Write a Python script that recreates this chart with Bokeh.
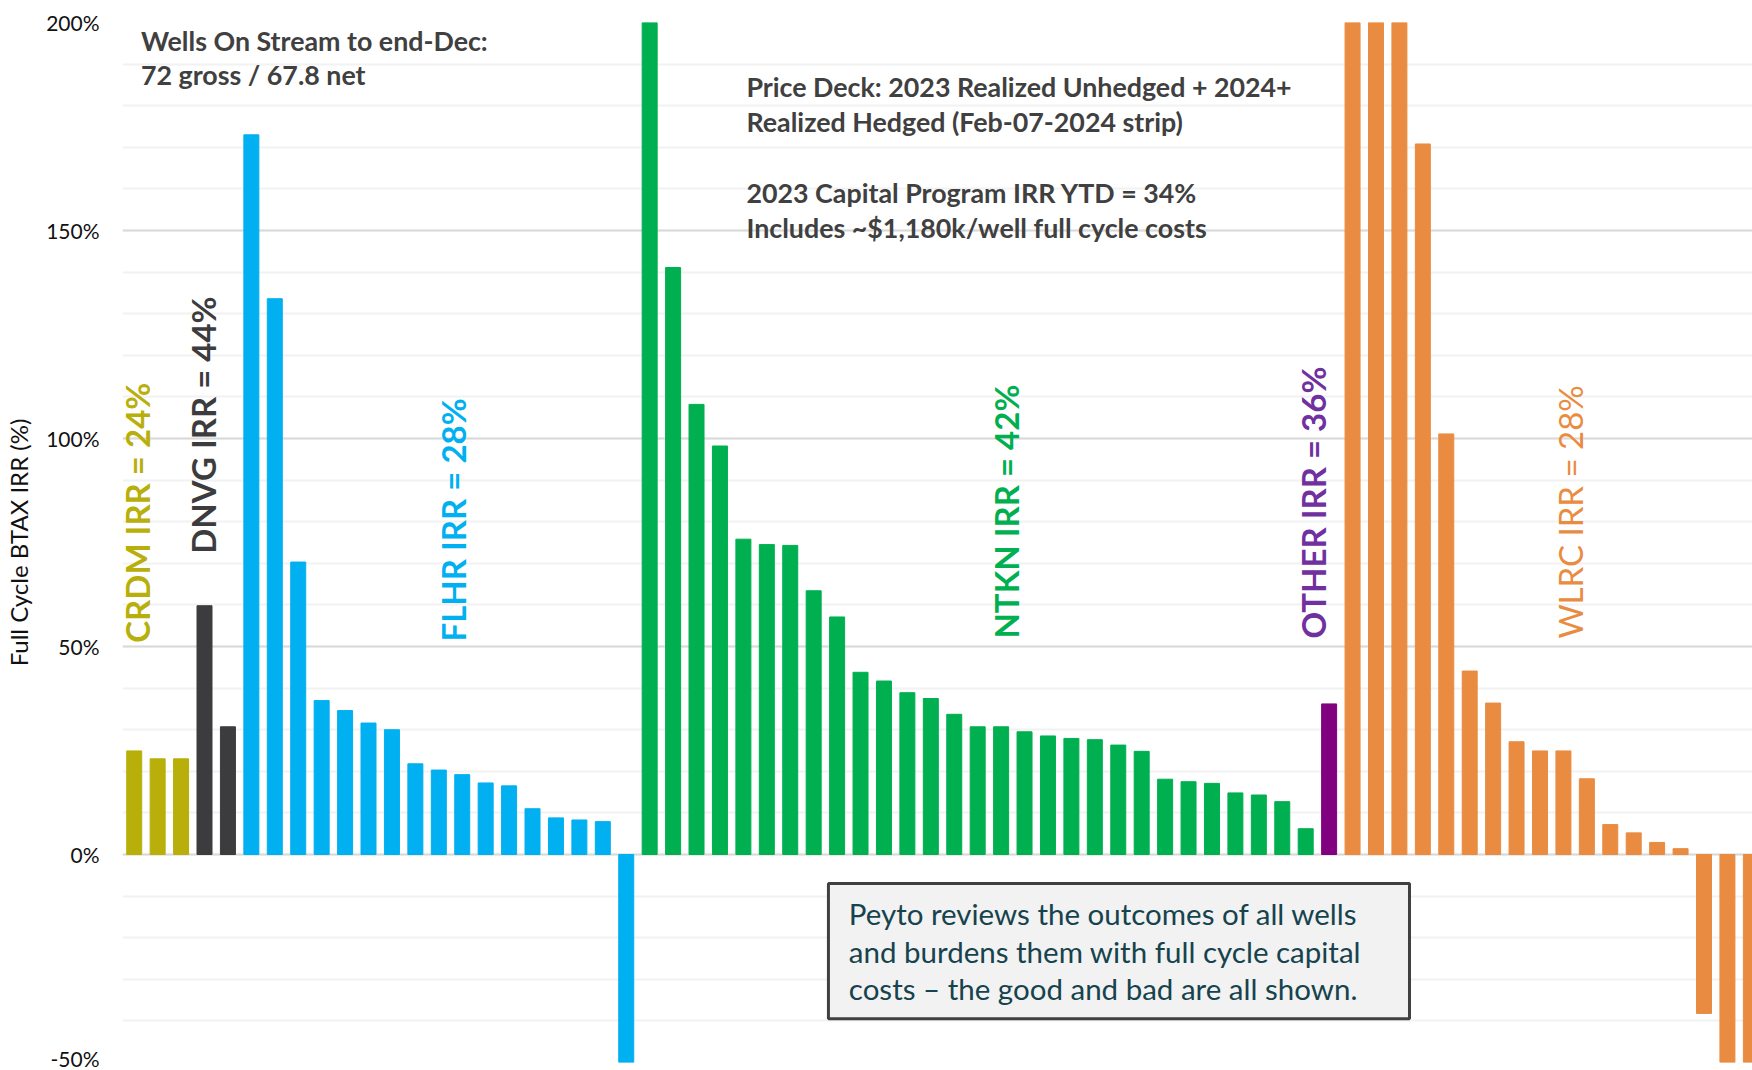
import numpy as np
from bokeh.plotting import figure
from bokeh.models import (Range1d, SingleIntervalTicker, PrintfTickFormatter,
                          Label, BoxAnnotation, ColumnDataSource)
from bokeh.core.properties import value
from bokeh.embed import file_html
from bokeh.resources import INLINE

# ---------------- data ----------------
groups = ["CRDM", "DNVG", "FLHR", "NTKN", "OTHER", "WLRC"]
group_irr = [24, 44, 28, 42, 36, 28]
crdm = [24.9, 23.0, 23.0]
dnvg = [59.8, 30.7]
flhr = [173.0, 133.6, 70.3, 37.0, 34.6, 31.6, 30.0, 21.8, 20.3, 19.2, 17.2,
        16.5, 11.0, 8.8, 8.3, 7.9, -50.0]
ntkn = [215.0, 141.1, 108.2, 98.2, 75.8, 74.5, 74.3, 63.4, 57.1, 43.8, 41.7,
        38.9, 37.5, 33.7, 30.7, 30.7, 29.5, 28.5, 27.9, 27.6, 26.3, 24.8,
        18.1, 17.5, 17.1, 14.8, 14.3, 12.7, 6.2]
other = [36.2]
wlrc = [240.0, 225.0, 210.0, 170.8, 101.1, 44.1, 36.4, 27.1, 24.9, 24.9,
        18.2, 7.2, 5.2, 2.9, 1.4, -38.2, -50.0, -50.0]

wells_text = ["Wells On Stream to end-Dec:", "72 gross / 67.8 net"]
deck_text = ["Price Deck: 2023 Realized Unhedged + 2024+",
             "Realized Hedged (Feb-07-2024 strip)",
             "2023 Capital Program IRR YTD = 34%",
             "Includes ~$1,180k/well full cycle costs"]
box_text = ["Peyto reviews the outcomes of all wells",
            "and burdens them with full cycle capital",
            "costs \u2013 the good and bad are all shown."]

# ---------------- styles / layout ----------------
bar_colors = {"CRDM": "#B8AF0A", "DNVG": "#3C3C3E", "FLHR": "#00B0F0",
              "NTKN": "#00B050", "OTHER": "#800080", "WLRC": "#E98C41"}
label_colors = {"CRDM": "#B8AF0A", "DNVG": "#3C3C3E", "FLHR": "#00B0F0",
                "NTKN": "#00B050", "OTHER": "#7030A0", "WLRC": "#E98C41"}
label_weight = {"CRDM": "bold", "DNVG": "bold", "FLHR": "bold",
                "NTKN": "bold", "OTHER": "bold", "WLRC": "normal"}
label_x = [0.14, 2.92, 13.6, 37.2, 50.3, 61.3]
label_y = [50.9, 72.3, 51.2, 51.9, 51.9, 51.9]
wells_y = [195.5, 187.3]
deck_y = [184.5, 176.2, 159.1, 150.5]
box_y = [-14.2, -23.4, -32.3]

FONT = "Lato"

series = [crdm, dnvg, flhr, ntkn, other, wlrc]
xs, tops, cols = [], [], []
i = 0
for g, vals in zip(groups, series):
    for v in vals:
        xs.append(i)
        tops.append(v)
        cols.append(bar_colors[g])
        i += 1
src = ColumnDataSource(dict(x=xs, top=tops, color=cols))

p = figure(frame_width=1630, frame_height=1040, output_backend="svg",
           toolbar_location=None,
           x_range=Range1d(-0.5, 69.07), y_range=Range1d(-50, 200),
           min_border_left=122, min_border_right=0, min_border_top=22,
           min_border_bottom=8)
p.outline_line_color = None
p.background_fill_color = "white"
p.border_fill_color = "white"
p.xaxis.visible = False
p.xgrid.visible = False

p.yaxis.ticker = SingleIntervalTicker(interval=50, num_minor_ticks=5)
p.yaxis.formatter = PrintfTickFormatter(format="%d%%")
p.yaxis.axis_line_color = None
p.yaxis.major_tick_line_color = None
p.yaxis.minor_tick_line_color = None
p.yaxis.major_tick_in = 0
p.yaxis.major_tick_out = 0
p.yaxis.minor_tick_out = 0
p.yaxis.major_label_standoff = 23
p.yaxis.major_label_text_font = FONT
p.yaxis.major_label_text_font_size = "21px"
p.yaxis.major_label_text_color = "#111111"
p.yaxis.axis_label = "Full Cycle BTAX IRR (%)"
p.yaxis.axis_label_text_font = FONT
p.yaxis.axis_label_text_font_style = "normal"
p.yaxis.axis_label_text_font_size = "24px"
p.yaxis.axis_label_text_color = "#111111"
p.yaxis.axis_label_standoff = 10

p.ygrid.grid_line_color = "#D9D9D9"
p.ygrid.grid_line_width = 2
p.ygrid.minor_grid_line_color = "#F2F2F2"
p.ygrid.minor_grid_line_width = 2

p.vbar(x="x", top="top", bottom=0, width=0.64, color="color", source=src)

# group IRR labels (rotated)
lsrc = ColumnDataSource(dict(
    x=label_x, y=label_y,
    text=[f"{g} IRR = {v}%" for g, v in zip(groups, group_irr)],
    color=[label_colors[g] for g in groups],
    style=[label_weight[g] for g in groups]))
p.text(x="x", y="y", text="text", source=lsrc, angle=np.pi / 2,
       text_color="color", text_font=value(FONT), text_font_size="33px",
       text_font_style="style", text_align="left", text_baseline="middle")

# annotation texts
for txt, y in zip(wells_text, wells_y):
    p.add_layout(Label(x=0.29, y=y, text=txt, text_font=FONT,
                       text_font_size="26.8px", text_font_style="bold",
                       text_color="#404040", text_baseline="middle"))
for txt, y in zip(deck_text, deck_y):
    p.add_layout(Label(x=26.13, y=y, text=txt, text_font=FONT,
                       text_font_size="26.8px", text_font_style="bold",
                       text_color="#404040", text_baseline="middle"))

p.add_layout(BoxAnnotation(left=29.63, right=54.43, top=-7.0, bottom=-39.5,
                           fill_color="#F2F2F2", fill_alpha=1.0,
                           line_color="#404040", line_alpha=1.0, line_width=3,
                           level="annotation"))
for txt, y in zip(box_text, box_y):
    p.add_layout(Label(x=30.5, y=y, text=txt, text_font=FONT,
                       text_font_size="29.5px", text_color="#16434D",
                       text_baseline="middle"))

open("out.html", "w").write(file_html(p, INLINE))
